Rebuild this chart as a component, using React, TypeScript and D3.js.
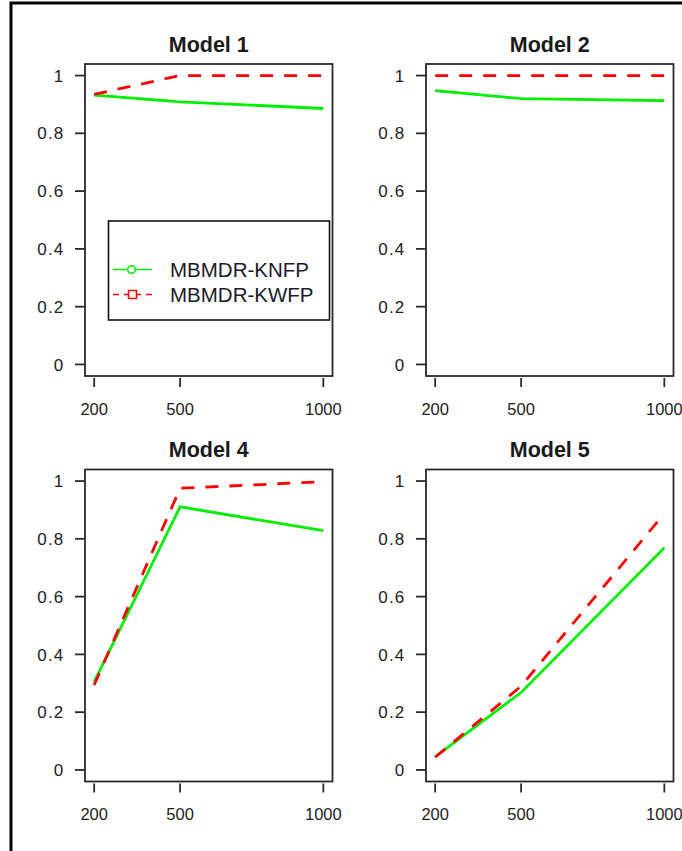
import React from "react";
import * as d3 from "d3";

const sampleSizes = [200, 500, 1000];
const xTickValues = [200, 500, 1000];
const yTickValues = [0, 0.2, 0.4, 0.6, 0.8, 1];
const yTickLabels = ["0", "0.2", "0.4", "0.6", "0.8", "1"];

const modelTitles = ["Model 1", "Model 2", "Model 4", "Model 5"];
const model1KNFP = [0.932, 0.909, 0.886];
const model1KWFP = [0.935, 1.0, 1.0];
const model2KNFP = [0.948, 0.92, 0.913];
const model2KWFP = [1.0, 1.0, 1.0];
const model4KNFP = [0.305, 0.911, 0.828];
const model4KWFP = [0.294, 0.975, 0.998];
const model5KNFP = [0.045, 0.268, 0.769];
const model5KWFP = [0.044, 0.29, 0.888];

const seriesNames = ["MBMDR-KNFP", "MBMDR-KWFP"];
const seriesColors = ["#00ee00", "#ff0000"];

const panelData = [
  [model1KNFP, model1KWFP],
  [model2KNFP, model2KWFP],
  [model4KNFP, model4KWFP],
  [model5KNFP, model5KWFP],
];

const W = 682;
const H = 851;
const colLeft = [85, 426];
const rowTop = [64, 469.5];
const boxW = 247.5;
const boxH = 312;
const FONT = "'Liberation Sans', Arial, sans-serif";
const AXIS = "#2a2a2a";

function Panel({ idx }: { idx: number }) {
  const left = colLeft[idx % 2];
  const top = rowTop[Math.floor(idx / 2)];
  const x = d3.scaleLinear().domain([168, 1032]).range([left, left + boxW]);
  const y = d3.scaleLinear().domain([-0.04, 1.04]).range([top + boxH, top]);
  const line = d3
    .line<number>()
    .x((_, i) => x(sampleSizes[i]))
    .y((d) => y(d));
  const data = panelData[idx];
  return (
    <g>
      <text
        x={left + boxW / 2}
        y={top - 12.5}
        textAnchor="middle"
        fontFamily={FONT}
        fontWeight="bold"
        fontSize={21.5}
        fill="#1a1a1a"
      >
        {modelTitles[idx]}
      </text>
      <path
        d={line(data[0]) || ""}
        fill="none"
        stroke={seriesColors[0]}
        strokeWidth={2.8}
      />
      <path
        d={line(data[1]) || ""}
        fill="none"
        stroke={seriesColors[1]}
        strokeWidth={2.8}
        strokeDasharray="13,11"
      />
      <rect
        x={left}
        y={top}
        width={boxW}
        height={boxH}
        fill="none"
        stroke={AXIS}
        strokeWidth={1.8}
      />
      {yTickValues.map((v, i) => (
        <g key={"y" + i}>
          <line
            x1={left - 10}
            x2={left}
            y1={y(v)}
            y2={y(v)}
            stroke={AXIS}
            strokeWidth={1.8}
          />
          <text
            x={left - 20.5}
            y={y(v)}
            dy="0.36em"
            textAnchor="end"
            fontFamily={FONT}
            fontSize={17}
            letterSpacing={1.2}
            fill="#222"
          >
            {yTickLabels[i]}
          </text>
        </g>
      ))}
      {xTickValues.map((v, i) => (
        <g key={"x" + i}>
          <line
            x1={x(v)}
            x2={x(v)}
            y1={top + boxH + 2}
            y2={top + boxH + 11}
            stroke={AXIS}
            strokeWidth={1.8}
          />
          <text
            x={x(v)}
            y={top + boxH + 33}
            dy="0.36em"
            textAnchor="middle"
            fontFamily={FONT}
            fontSize={16.5}
            fill="#222"
          >
            {v}
          </text>
        </g>
      ))}
    </g>
  );
}

function Legend() {
  const bx = 108.5;
  const by = 221;
  const bw = 221;
  const bh = 99;
  const rows = [269.5, 294.5];
  return (
    <g>
      <rect x={bx} y={by} width={bw} height={bh} fill="#fff" stroke="#111" strokeWidth={1.6} />
      <line x1={113} x2={152} y1={rows[0]} y2={rows[0]} stroke={seriesColors[0]} strokeWidth={1.6} />
      <circle cx={131.5} cy={rows[0]} r={3.8} fill="#fff" stroke={seriesColors[0]} strokeWidth={1.5} />
      <line
        x1={113}
        x2={152}
        y1={rows[1]}
        y2={rows[1]}
        stroke={seriesColors[1]}
        strokeWidth={1.6}
        strokeDasharray="6,5"
      />
      <rect
        x={128.5}
        y={rows[1] - 4}
        width={8}
        height={8}
        fill="#fff"
        stroke={seriesColors[1]}
        strokeWidth={1.5}
      />
      {seriesNames.map((n, i) => (
        <text
          key={n}
          x={170}
          y={rows[i]}
          dy="0.36em"
          fontFamily={FONT}
          fontSize={20.5}
          fill="#1a1a2a"
        >
          {n}
        </text>
      ))}
    </g>
  );
}

export default function App() {
  return (
    <svg
      width={W}
      height={H}
      viewBox={`0 0 ${W} ${H}`}
      style={{ position: "absolute", left: 0, top: 0, background: "#fff" }}
    >
      <rect x={0} y={0} width={W} height={H} fill="#fff" />
      <path d={`M11,${H} L11,3 L${W},3`} fill="none" stroke="#000" strokeWidth={3} />
      {[0, 1, 2, 3].map((i) => (
        <Panel key={i} idx={i} />
      ))}
      <Legend />
    </svg>
  );
}
